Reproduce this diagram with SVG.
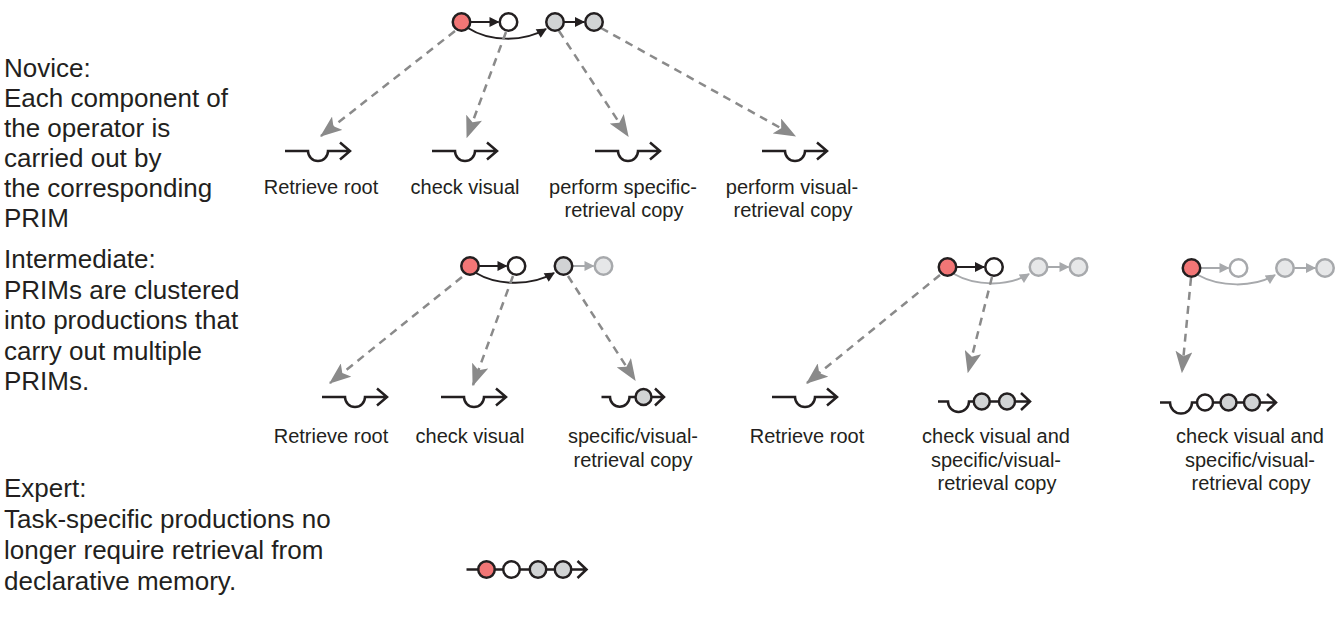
<svg xmlns="http://www.w3.org/2000/svg" width="1341" height="619" viewBox="0 0 1341 619">
<style>
text{font-family:"Liberation Sans",Arial,Helvetica,sans-serif;fill:#231f20}
.side{font-size:26px}
.lbl{font-size:20px;text-anchor:middle}
.sym{fill:none;stroke:#231f20;stroke-width:2.5}
.arr{fill:none;stroke:#231f20;stroke-width:2;marker-end:url(#ah)}
.arrg{fill:none;stroke:#a7a9ac;stroke-width:2;marker-end:url(#ahg)}
.dash{fill:none;stroke:#8a8a8a;stroke-width:2.5;stroke-dasharray:8 6;marker-end:url(#dh)}
.c{stroke:#231f20;stroke-width:2.5}
.red{fill:#f27676}
.wht{fill:#fff}
.gry{fill:#d1d3d4}
.lg{fill:#e6e7e8;stroke:#a7a9ac;stroke-width:2.5}
.wg{fill:#fff;stroke:#a7a9ac;stroke-width:2.5}
</style>
<defs>
<marker id="ah" viewBox="0 0 10 10" refX="9" refY="5" markerWidth="12" markerHeight="10" orient="auto" markerUnits="userSpaceOnUse"><path d="M0,0 L10,5 L0,10 z" fill="#231f20"/></marker>
<marker id="ahg" viewBox="0 0 10 10" refX="9" refY="5" markerWidth="12" markerHeight="10" orient="auto" markerUnits="userSpaceOnUse"><path d="M0,0 L10,5 L0,10 z" fill="#a7a9ac"/></marker>
<marker id="dh" viewBox="0 0 18 14" refX="17" refY="7" markerWidth="22" markerHeight="17" orient="auto" markerUnits="userSpaceOnUse"><path d="M0,0 L18,7 L0,14 L4,7 z" fill="#8a8a8a"/></marker>
</defs>

<g id="side-text">
<text class="side" x="4" y="77">Novice:</text>
<text class="side" x="4" y="107">Each component of</text>
<text class="side" x="4" y="137">the operator is</text>
<text class="side" x="4" y="167">carried out by</text>
<text class="side" x="4" y="197">the corresponding</text>
<text class="side" x="4" y="227">PRIM</text>
<text class="side" x="4" y="268">Intermediate:</text>
<text class="side" x="4" y="298.5">PRIMs are clustered</text>
<text class="side" x="4" y="329">into productions that</text>
<text class="side" x="4" y="359.5">carry out multiple</text>
<text class="side" x="4" y="390">PRIMs.</text>
<text class="side" x="4" y="497">Expert:</text>
<text class="side" x="4" y="528">Task-specific productions no</text>
<text class="side" x="4" y="559">longer require retrieval from</text>
<text class="side" x="4" y="590">declarative memory.</text>
</g>

<g id="connectors">
<path class="arr" d="M470.5 22 H498.5"/>
<path class="arr" d="M564 22 H584"/>
<path class="arr" d="M468 28 C488 41 522 43 546 29"/>
<path class="dash" d="M455 31 L321 136"/>
<path class="dash" d="M506 32 L467 137"/>
<path class="dash" d="M559 31 L628 136"/>
<path class="dash" d="M601 28 L795 136"/>
<path class="arr" d="M479 266 H506.5"/>
<path class="arrg" d="M573 266 H593.5"/>
<path class="arr" d="M476 273 C496 285 530 287 554 273"/>
<path class="dash" d="M462 277 L330 383"/>
<path class="dash" d="M513 276 L473 385"/>
<path class="dash" d="M568 276 L635 380"/>
<path class="arr" d="M956 267 H984"/>
<path class="arrg" d="M1048 267 H1068.5"/>
<path class="arrg" d="M954 274 C975 286 1008 287 1029 274"/>
<path class="dash" d="M940 275 L807 383"/>
<path class="dash" d="M992 277 L968 372"/>
<path class="arrg" d="M1200.5 268 H1228.5"/>
<path class="arrg" d="M1294.5 268 H1315"/>
<path class="arrg" d="M1198 275 C1219 287 1254 288 1275 275"/>
<path class="dash" d="M1191 278 L1182 372"/>
</g>

<g id="novice-operator">
<circle class="c red" cx="461.5" cy="22" r="8.75"/>
<circle class="c wht" cx="508.5" cy="22" r="8.75"/>
<circle class="c gry" cx="555" cy="22" r="8.75"/>
<circle class="c gry" cx="594" cy="22" r="8.75"/>
</g>

<g id="n-retrieve-root">
<path class="sym" d="M285 151 h23 a10 10 0 0 0 20 0 h22 M340 142.5 L350 151 L340 159.5"/>
<text class="lbl" x="321" y="194">Retrieve root</text>
</g>
<g id="n-check-visual">
<path class="sym" d="M432 151 h23 a10 10 0 0 0 20 0 h22 M487 142.5 L497 151 L487 159.5"/>
<text class="lbl" x="465" y="194">check visual</text>
</g>
<g id="n-perform-specific">
<path class="sym" d="M595 151 h23 a10 10 0 0 0 20 0 h22 M650 142.5 L660 151 L650 159.5"/>
<text class="lbl" x="623" y="194">perform specific-</text>
<text class="lbl" x="624" y="217">retrieval copy</text>
</g>
<g id="n-perform-visual">
<path class="sym" d="M762 151 h23 a10 10 0 0 0 20 0 h22 M817 142.5 L827 151 L817 159.5"/>
<text class="lbl" x="792" y="194">perform visual-</text>
<text class="lbl" x="793" y="217">retrieval copy</text>
</g>

<g id="intermediate-operator-1">
<circle class="c red" cx="470" cy="266" r="8.75"/>
<circle class="c wht" cx="516.5" cy="266" r="8.75"/>
<circle class="c gry" cx="563.5" cy="266" r="8.75"/>
<circle class="lg" cx="603.5" cy="266" r="8.75"/>
</g>
<g id="i1-retrieve-root">
<path class="sym" d="M322 397 h23 a10 10 0 0 0 20 0 h22 M377 388.5 L387 397 L377 405.5"/>
<text class="lbl" x="331" y="443">Retrieve root</text>
</g>
<g id="i1-check-visual">
<path class="sym" d="M441 397 h23 a10 10 0 0 0 20 0 h22 M496 388.5 L506 397 L496 405.5"/>
<text class="lbl" x="470" y="443">check visual</text>
</g>
<g id="i1-specific-visual">
<path class="sym" d="M601.5 397 H610 a9.75 9.75 0 0 0 19.5 0 H664 M655 388.5 L664 397 L655 405.5"/>
<circle class="c gry" cx="643.5" cy="397" r="8"/>
<text class="lbl" x="633" y="443">specific/visual-</text>
<text class="lbl" x="633" y="467">retrieval copy</text>
</g>

<g id="intermediate-operator-2">
<circle class="c red" cx="947.5" cy="267" r="8.75"/>
<circle class="c wht" cx="994" cy="267" r="8.75"/>
<circle class="lg" cx="1038.5" cy="267" r="8.75"/>
<circle class="lg" cx="1078.5" cy="267" r="8.75"/>
</g>
<g id="i2-retrieve-root">
<path class="sym" d="M772 397 h23 a10 10 0 0 0 20 0 h22 M827 388.5 L837 397 L827 405.5"/>
<text class="lbl" x="807" y="443">Retrieve root</text>
</g>
<g id="i2-check-visual-specific">
<path class="sym" d="M938 401.5 H948 a10.5 10.5 0 0 0 21 0 H1030 M1021 393 L1030 401.5 L1021 410"/>
<circle class="c gry" cx="981.75" cy="401.5" r="8"/>
<circle class="c gry" cx="1007" cy="401.5" r="8"/>
<text class="lbl" x="996" y="443">check visual and</text>
<text class="lbl" x="996" y="467">specific/visual-</text>
<text class="lbl" x="997" y="490">retrieval copy</text>
</g>

<g id="intermediate-operator-3">
<circle class="c red" cx="1191.5" cy="268" r="8.75"/>
<circle class="wg" cx="1238.5" cy="268" r="8.75"/>
<circle class="lg" cx="1285" cy="268" r="8.75"/>
<circle class="lg" cx="1325" cy="268" r="8.75"/>
</g>
<g id="i3-check-visual-specific">
<path class="sym" d="M1160 402.5 H1170 a11 11 0 0 0 22 0 H1276 M1267 394 L1276 402.5 L1267 411"/>
<circle class="c wht" cx="1205" cy="402.5" r="8"/>
<circle class="c gry" cx="1228.5" cy="402.5" r="8"/>
<circle class="c gry" cx="1252" cy="402.5" r="8"/>
<text class="lbl" x="1250" y="443">check visual and</text>
<text class="lbl" x="1250" y="467">specific/visual-</text>
<text class="lbl" x="1251" y="490">retrieval copy</text>
</g>

<g id="expert-production">
<path class="sym" d="M466.5 569.5 H586.5 M577.5 561 L586.5 569.5 L577.5 578"/>
<circle class="c red" cx="486.5" cy="569.5" r="8.25"/>
<circle class="c wht" cx="511.5" cy="569.5" r="8.25"/>
<circle class="c gry" cx="538" cy="569.5" r="8.25"/>
<circle class="c gry" cx="563" cy="569.5" r="8.25"/>
</g>
</svg>
